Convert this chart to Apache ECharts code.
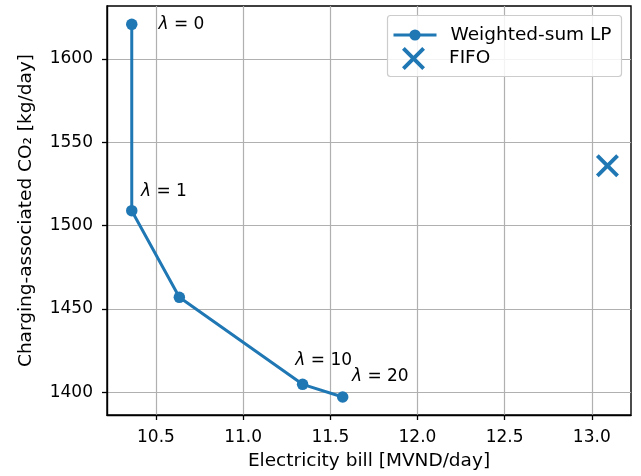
<!DOCTYPE html>
<html>
<head>
<meta charset="utf-8">
<script src="https://cdn.jsdelivr.net/npm/echarts@6/dist/echarts.min.js"></script>
<style>
  html, body { margin: 0; padding: 0; background: #fff; }
  #chart { width: 641px; height: 476px; }
</style>
</head>
<body>
<div id="chart"></div>
<script>
// data
var billLP = [10.361, 10.361, 10.634, 11.341, 11.571];
var co2LP = [1620.8, 1509.0, 1457.0, 1404.8, 1397.2];
var lambdaLabels = ['0', '1', '', '10', '20'];
var fifoBill = [13.09];
var fifoCO2 = [1536];
var xTicks = [10.5, 11.0, 11.5, 12.0, 12.5, 13.0];
var yTicks = [1400, 1450, 1500, 1550, 1600];

// where each lambda label sits, relative to its point
var labelOffsets = [[21, 0], [3.5, -19], [0, 0], [-13, -23.5], [3.5, -20]];

var FONT = 'DejaVu Sans';
var BLUE = '#1f77b4';
var CROSS = 'path://M0,1.2 L1.2,0 L5,3.8 L8.8,0 L10,1.2 L6.2,5 L10,8.8 L8.8,10 L5,6.2 L1.2,10 L0,8.8 L3.8,5 Z';

var lpData = billLP.map(function (b, i) {
    var item = { value: [b, co2LP[i]] };
    if (lambdaLabels[i] !== '') {
        item.label = {
            show: true,
            position: 'right',
            distance: 0,
            offset: labelOffsets[i],
            formatter: '{l|λ} = ' + lambdaLabels[i],
            fontFamily: FONT,
            fontSize: 17,
            color: '#000',
            rich: { l: { fontFamily: FONT, fontSize: 17, fontStyle: 'italic', color: '#000' } }
        };
    }
    return item;
});

var fifoData = fifoBill.map(function (b, i) { return [b, fifoCO2[i]]; });

var myChart = echarts.init(document.getElementById('chart'), null, { renderer: 'canvas' });

var option = {
    animation: false,
    backgroundColor: '#fff',
    textStyle: { fontFamily: FONT },
    grid: {
        left: 107, right: 10, top: 6, bottom: 61,
        show: true,
        borderColor: '#000',
        borderWidth: 1.4,
        backgroundColor: 'transparent'
    },
    xAxis: {
        type: 'value',
        min: 10.219,
        max: 13.225,
        name: 'Electricity bill [MVND/day]',
        nameLocation: 'middle',
        nameGap: 37,
        nameTextStyle: { fontFamily: FONT, fontSize: 18.5, color: '#000' },
        axisLine: { show: true, onZero: false, lineStyle: { color: '#000', width: 1.4 } },
        axisTick: { show: true, length: 5, customValues: xTicks, lineStyle: { color: '#000', width: 1.3 } },
        axisLabel: {
            customValues: xTicks,
            margin: 14,
            fontFamily: FONT, fontSize: 17, color: '#000',
            formatter: function (v) { return v.toFixed(1); }
        },
        splitLine: { show: true, lineStyle: { color: '#b0b0b0', width: 1.2 } }
    },
    yAxis: {
        type: 'value',
        min: 1386.4,
        max: 1631.8,
        name: 'Charging-associated CO₂ [kg/day]',
        nameLocation: 'middle',
        nameGap: 71,
        nameRotate: 90,
        nameTextStyle: { fontFamily: FONT, fontSize: 18.5, color: '#000' },
        axisLine: { show: true, onZero: false, lineStyle: { color: '#000', width: 1.4 } },
        axisTick: { show: true, length: 5, customValues: yTicks, lineStyle: { color: '#000', width: 1.3 } },
        axisLabel: {
            customValues: yTicks,
            margin: 14,
            fontFamily: FONT, fontSize: 17, color: '#000',
            formatter: function (v) { return String(v); }
        },
        splitLine: { show: true, lineStyle: { color: '#b0b0b0', width: 1.2 } }
    },
    graphic: [{
        type: 'rect',
        z: 50,
        shape: { x: 387.5, y: 15.5, width: 234, height: 61, r: 3 },
        style: { fill: 'rgba(255,255,255,0.85)', stroke: '#cccccc', lineWidth: 1.2 }
    }],
    legend: [{
        z: 60,
        left: 392,
        top: 25.5,
        padding: 0,
        itemWidth: 43,
        itemHeight: 14,
        data: ['Weighted-sum LP'],
        lineStyle: { width: 3 },
        textStyle: { fontFamily: FONT, fontSize: 18.5, color: '#000', lineHeight: 14, padding: [0, 0, 0, 9] }
    }, {
        z: 60,
        left: 402,
        top: 47,
        padding: 0,
        itemWidth: 23,
        itemHeight: 23,
        data: [{ name: 'FIFO', icon: CROSS }],
        textStyle: { fontFamily: FONT, fontSize: 18.5, color: '#000', lineHeight: 23, padding: [0, 0, 0, 19] }
    }],
    series: [{
        name: 'Weighted-sum LP',
        type: 'line',
        data: lpData,
        symbol: 'circle',
        symbolSize: 11.5,
        color: BLUE,
        itemStyle: { color: BLUE },
        lineStyle: { color: BLUE, width: 3 },
        z: 3
    }, {
        name: 'FIFO',
        type: 'scatter',
        data: fifoData,
        symbol: CROSS,
        symbolSize: 23,
        color: BLUE,
        itemStyle: { color: BLUE, opacity: 1 },
        z: 3
    }]
};

myChart.setOption(option);
</script>
</body>
</html>
